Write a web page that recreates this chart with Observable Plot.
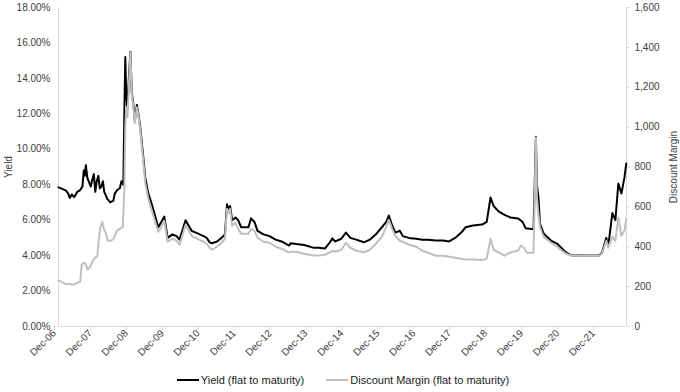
<!DOCTYPE html>
<html>
<head>
<meta charset="utf-8">
<script src="https://cdn.jsdelivr.net/npm/d3@7"></script>
<script src="https://cdn.jsdelivr.net/npm/@observablehq/plot@0.6"></script>
<style>
  html, body { margin: 0; padding: 0; background: #fff; }
  body { width: 680px; height: 392px; overflow: hidden; font-family: "Liberation Sans", Arial, sans-serif; }
  #legend { display: flex; justify-content: center; gap: 22px; font-size: 11px; color: #222; margin-top: 8px; padding-left: 6px; }
  #legend span { display: inline-flex; align-items: center; }
  #legend i { display: inline-block; width: 22px; height: 0; border-top: 2.5px solid; margin-right: 2px; }
</style>
</head>
<body>
<div id="chart"></div>
<div id="legend"></div>
<script>
const seriesNames = ["Yield (flat to maturity)", "Discount Margin (flat to maturity)"];
const seriesColors = ["#000000", "#bfbfbf"];

const yieldDates = ["2006-12-01","2007-01-15","2007-02-15","2007-03-10","2007-03-25","2007-04-15","2007-05-10","2007-06-10","2007-07-10","2007-08-01","2007-08-15","2007-08-25","2007-09-05","2007-09-20","2007-10-10","2007-10-25","2007-11-10","2007-11-25","2007-12-10","2007-12-25","2008-01-10","2008-01-25","2008-02-10","2008-02-25","2008-03-10","2008-04-10","2008-05-10","2008-06-10","2008-06-25","2008-07-20","2008-08-15","2008-09-01","2008-09-20","2008-10-01","2008-10-10","2008-10-20","2008-11-01","2008-11-15","2008-12-01","2008-12-15","2009-01-01","2009-01-15","2009-02-05","2009-02-20","2009-03-10","2009-04-05","2009-05-01","2009-06-01","2009-07-01","2009-08-01","2009-09-10","2009-10-01","2009-11-10","2009-12-15","2010-02-01","2010-03-15","2010-04-15","2010-06-15","2010-08-15","2010-10-15","2010-12-15","2011-01-15","2011-02-15","2011-03-10","2011-05-01","2011-06-15","2011-07-20","2011-08-10","2011-08-25","2011-09-10","2011-10-01","2011-11-05","2011-12-01","2012-01-01","2012-03-15","2012-04-10","2012-05-15","2012-06-15","2012-08-15","2012-10-15","2012-12-15","2013-02-15","2013-05-01","2013-05-20","2013-07-15","2013-10-01","2014-01-01","2014-03-01","2014-05-01","2014-06-15","2014-07-15","2014-08-15","2014-10-15","2014-12-01","2015-01-15","2015-03-15","2015-06-01","2015-08-01","2015-10-01","2015-12-01","2016-01-15","2016-02-10","2016-03-15","2016-04-15","2016-06-01","2016-07-01","2016-09-01","2016-11-15","2017-01-15","2017-03-15","2017-06-01","2017-08-15","2017-10-15","2017-12-15","2018-02-15","2018-04-01","2018-06-15","2018-09-15","2018-11-01","2018-12-10","2019-01-10","2019-03-01","2019-05-01","2019-07-01","2019-09-15","2019-11-01","2019-12-01","2020-02-01","2020-02-20","2020-03-15","2020-03-25","2020-04-10","2020-04-25","2020-06-01","2020-08-15","2020-10-15","2021-01-15","2021-03-15","2021-06-15","2021-09-15","2021-12-15","2022-01-15","2022-03-01","2022-03-20","2022-05-01","2022-06-01","2022-07-01","2022-08-01","2022-09-01","2022-09-20"];
const yieldValues = [7.85,7.75,7.67,7.5,7.25,7.45,7.3,7.6,7.7,7.9,8.8,8.5,9.1,8.4,8.1,7.9,8.3,8.6,7.6,8.2,8.5,7.8,7.9,8.2,7.6,7.2,7.0,7.1,7.5,7.7,7.8,8.2,8.0,12.3,15.2,13.0,12.3,14.0,15.5,13.2,12.5,11.6,12.5,12.0,11.3,9.9,8.4,7.5,7.0,6.4,5.6,5.8,6.2,5.0,5.2,5.1,4.9,6.0,5.4,5.25,5.1,5.0,4.75,4.7,4.8,5.0,5.2,6.9,6.6,6.8,6.0,6.15,6.0,5.6,5.6,6.1,5.9,5.4,5.2,5.1,4.9,4.8,4.57,4.7,4.65,4.6,4.45,4.45,4.4,4.7,4.97,4.8,4.95,5.3,5.0,4.9,4.75,4.9,5.2,5.6,5.9,6.26,5.7,5.3,5.4,5.1,5.0,4.95,4.9,4.9,4.85,4.85,4.8,5.0,5.3,5.6,5.7,5.75,5.9,7.28,6.8,6.5,6.3,6.15,6.1,5.9,5.55,5.5,5.5,10.7,8.0,7.3,5.8,5.25,4.85,4.68,4.18,4.0,4.0,4.0,4.0,4.15,5.0,4.5,6.4,6.0,8.07,7.5,8.4,9.2];

const dmDates = ["2006-12-01","2007-01-15","2007-02-15","2007-03-15","2007-04-15","2007-05-15","2007-06-15","2007-07-10","2007-07-25","2007-08-15","2007-09-01","2007-09-25","2007-10-20","2007-11-15","2007-12-10","2008-01-01","2008-01-15","2008-02-01","2008-02-20","2008-03-05","2008-03-25","2008-04-15","2008-05-15","2008-06-15","2008-07-15","2008-08-15","2008-09-15","2008-10-01","2008-10-10","2008-10-20","2008-11-01","2008-11-15","2008-12-01","2008-12-15","2009-01-01","2009-01-15","2009-02-05","2009-02-20","2009-03-10","2009-04-05","2009-05-01","2009-06-01","2009-07-01","2009-08-01","2009-09-10","2009-10-01","2009-11-10","2009-12-15","2010-02-01","2010-03-15","2010-04-15","2010-06-15","2010-08-15","2010-10-15","2010-12-15","2011-01-15","2011-02-15","2011-03-10","2011-05-01","2011-06-15","2011-07-20","2011-08-10","2011-08-25","2011-09-10","2011-10-01","2011-11-05","2011-12-01","2012-01-01","2012-03-15","2012-04-10","2012-05-15","2012-06-15","2012-08-15","2012-10-15","2012-12-15","2013-02-15","2013-05-01","2013-05-20","2013-07-15","2013-10-01","2014-01-01","2014-03-01","2014-05-01","2014-06-15","2014-07-15","2014-08-15","2014-10-15","2014-12-01","2015-01-15","2015-03-15","2015-06-01","2015-08-01","2015-10-01","2015-12-01","2016-01-15","2016-02-10","2016-03-15","2016-04-15","2016-06-01","2016-07-01","2016-09-01","2016-11-15","2017-01-15","2017-03-15","2017-06-01","2017-08-15","2017-10-15","2017-12-15","2018-02-15","2018-04-01","2018-06-15","2018-09-15","2018-11-01","2018-12-10","2019-01-10","2019-03-01","2019-05-01","2019-07-01","2019-09-15","2019-10-15","2019-11-15","2019-12-15","2020-02-20","2020-03-15","2020-03-25","2020-04-10","2020-04-25","2020-06-01","2020-08-15","2020-10-15","2021-01-15","2021-03-15","2021-06-15","2021-09-15","2021-12-15","2022-01-15","2022-03-01","2022-03-20","2022-05-01","2022-06-01","2022-07-01","2022-08-01","2022-09-01","2022-09-20"];
const dmValues = [230,220,212,215,210,212,220,225,310,320,315,285,300,330,345,355,440,500,525,490,470,430,430,440,480,490,500,700,1000,1100,1050,1200,1375,1160,1100,1020,1100,1060,990,860,720,640,590,540,475,490,530,425,440,430,410,510,455,440,425,415,395,385,400,420,440,590,570,590,505,520,490,465,465,490,480,445,425,420,400,390,370,375,375,365,356,356,360,370,380,375,385,420,395,380,372,385,415,450,500,535,490,455,430,425,410,400,380,370,355,355,350,345,340,336,336,333,340,440,385,372,355,372,380,406,395,370,370,948,650,560,500,450,420,400,365,355,355,356,355,365,430,395,450,430,547,455,480,540];

const xTicks = ["2006-12-01","2007-12-01","2008-12-01","2009-12-01","2010-12-01","2011-12-01","2012-12-01","2013-12-01","2014-12-01","2015-12-01","2016-12-01","2017-12-01","2018-12-01","2019-12-01","2020-12-01","2021-12-01"];
const xDomain = ["2006-12-01","2022-09-22"];
const yieldTicks = [0,2,4,6,8,10,12,14,16,18];
const dmTicks = [0,200,400,600,800,1000,1200,1400,1600];
const yieldMax = 18, dmMax = 1600;

const yieldData = yieldDates.map((d, i) => ({date: new Date(d), v: yieldValues[i]}));
const dmData = dmDates.map((d, i) => ({date: new Date(d), v: dmValues[i] * yieldMax / dmMax}));
const toDM = v => Math.round(v * dmMax / yieldMax);
const fmtMonth = d3.utcFormat("%b-%y");
const axisColor = "#d9d9d9";
const textColor = "#404040";

const chart = Plot.plot({
  width: 680,
  height: 366,
  marginLeft: 58,
  marginRight: 54,
  marginTop: 7,
  marginBottom: 40,
  style: {fontFamily: "'Liberation Sans', Arial, sans-serif", fontSize: "10px", color: textColor, background: "white"},
  x: {type: "utc", domain: xDomain.map(d => new Date(d))},
  y: {domain: [0, yieldMax]},
  marks: [
    Plot.ruleY([0], {stroke: axisColor, strokeWidth: 1}),
    Plot.ruleX([new Date(xDomain[0])], {stroke: axisColor, strokeWidth: 1}),
    Plot.ruleX([new Date(xDomain[1])], {stroke: axisColor, strokeWidth: 1}),
    Plot.axisX(xTicks.map(d => new Date(d)), {
      tickFormat: fmtMonth, tickRotate: -45, tickSize: 4, stroke: axisColor,
      tickPadding: 1, dx: -4, label: null, fill: textColor, fontSize: 10
    }),
    Plot.axisY(yieldTicks, {
      anchor: "left", tickSize: 0, tickPadding: 8, tickFormat: d => d.toFixed(2) + "%",
      label: "Yield", labelAnchor: "center", labelOffset: 54, labelArrow: "none", fill: textColor, fontSize: 10
    }),
    Plot.axisY(dmTicks.map(v => v * yieldMax / dmMax), {
      anchor: "right", tickSize: 3, stroke: axisColor, tickPadding: 5, tickFormat: v => d3.format(",")(toDM(v)),
      label: "Discount Margin", labelAnchor: "center", labelOffset: 50, labelArrow: "none", fill: textColor, fontSize: 10
    }),
    Plot.line(yieldData, {x: "date", y: "v", stroke: seriesColors[0], strokeWidth: 2}),
    Plot.line(dmData, {x: "date", y: "v", stroke: seriesColors[1], strokeWidth: 2})
  ]
});
document.getElementById("chart").appendChild(chart);

const legend = document.getElementById("legend");
seriesNames.forEach((name, i) => {
  const s = document.createElement("span");
  s.innerHTML = `<i style="border-color:${seriesColors[i]}"></i>${name}`;
  legend.appendChild(s);
});
</script>
</body>
</html>
